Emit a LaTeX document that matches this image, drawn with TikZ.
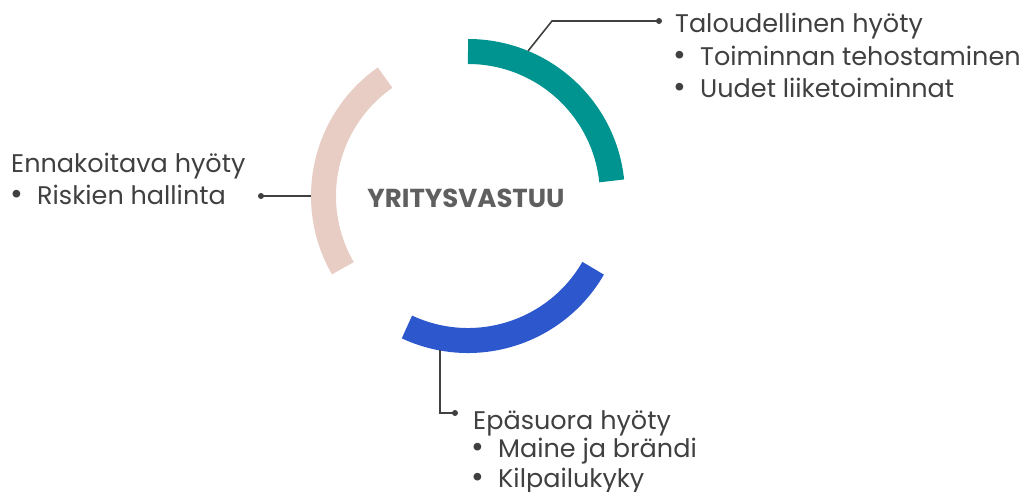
\documentclass[tikz,border=0pt]{standalone}
\usepackage{fontspec}
\setmainfont{Poppins}
\definecolor{TealClr}{RGB}{0,148,144}
\definecolor{BlueClr}{RGB}{45,87,204}
\definecolor{RoseClr}{RGB}{232,205,196}
\definecolor{TextClr}{RGB}{64,64,64}
\definecolor{CoreClr}{RGB}{95,95,95}
\newcommand{\kohta}[1]{\makebox[27pt][l]{{\fontsize{31}{30}\selectfont\textbullet}}#1}

\begin{document}
\begin{tikzpicture}[x=1pt,y=1pt,
  ring/.style={line width=25pt},
  leader/.style={line width=1.6pt,color=TextClr},
  label/.style={anchor=base west,inner sep=0pt,text=TextClr,font=\fontsize{25.5}{30}\selectfont},
  dotend/.style={circle,fill=TextClr,inner sep=0pt,minimum size=6pt}]
\useasboundingbox (0,0) rectangle (1022,492);

\coordinate (O) at (468,296);

\draw[ring,color=TealClr] ([shift={(90:144.5)}]O) arc[start angle=90,end angle=6,radius=144.5];
\draw[ring,color=BlueClr] ([shift={(-30:144.5)}]O) arc[start angle=-30,end angle=-115,radius=144.5];
\draw[ring,color=RoseClr] ([shift={(125:144.5)}]O) arc[start angle=125,end angle=210,radius=144.5];

\node[font=\bfseries\fontsize{26}{30}\selectfont,text=CoreClr,inner sep=0pt] (core) at (466,294) {YRITYSVASTUU};

% labels
\node[label] (talous) at (675,459) {Taloudellinen hyöty};
\node[label] (talous1) at (673,426) {\kohta{Toiminnan tehostaminen}};
\node[label] (talous2) at (673,394) {\kohta{Uudet liiketoiminnat}};

\node[label] (ennakko) at (11,319) {Ennakoitava hyöty};
\node[label] (ennakko1) at (10,287) {\kohta{Riskien hallinta}};

\node[label] (epa) at (473,62) {Epäsuora hyöty};
\node[label] (epa1) at (471,34) {\kohta{Maine ja brändi}};
\node[label] (epa2) at (471,4) {\kohta{Kilpailukyky}};

% leaders
\coordinate (taloustap) at ([shift={(67.5:157)}]O);
\coordinate (talousbend) at (552,471);
\coordinate (ennakkotap) at ([shift={(180:157)}]O);
\coordinate (epatap) at ([shift={(-100.3:157)}]O);

\node[dotend] (talousdot) at (659,471) {};
\node[dotend] (ennakkodot) at (261,296) {};
\node[dotend] (epadot) at (455,79) {};

\draw[leader] (taloustap) -- (talousbend) -- (talousdot.center);
\draw[leader] (ennakkotap) -- (ennakkodot.center);
\draw[leader] (epatap) |- (epadot.center);
\end{tikzpicture}
\end{document}
